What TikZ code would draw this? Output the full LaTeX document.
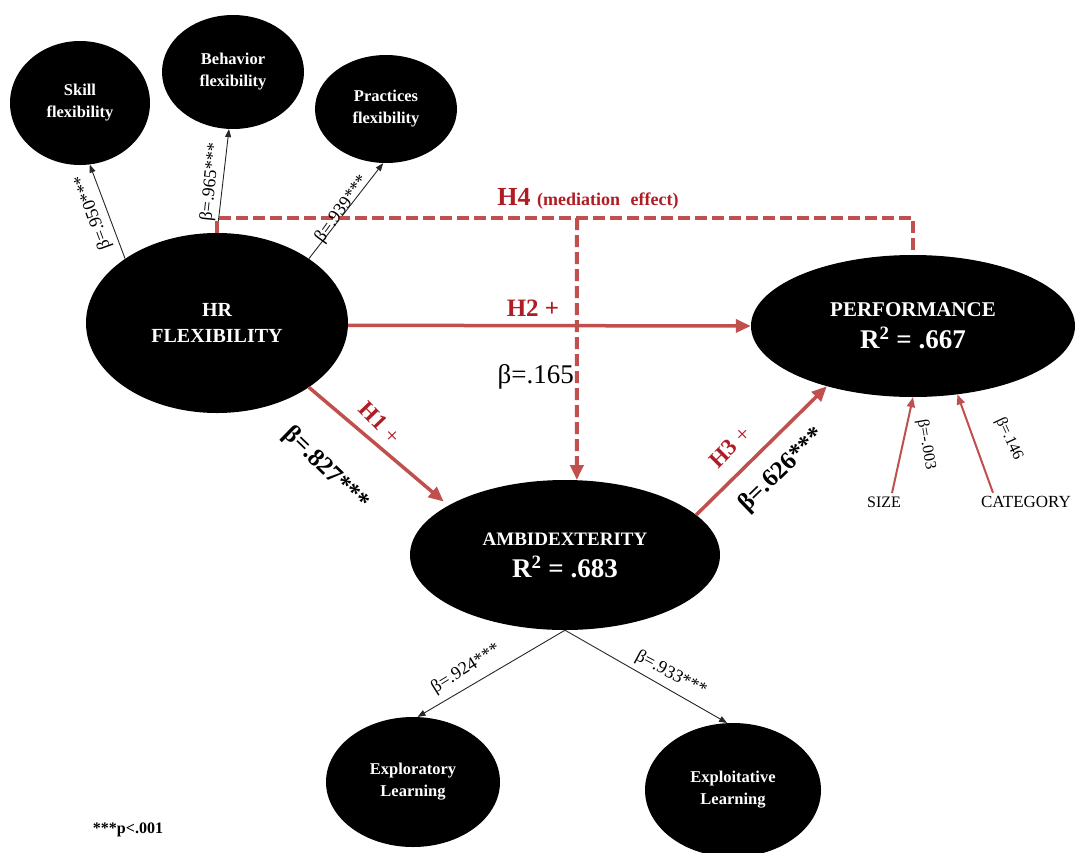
\documentclass[tikz,border=0pt]{standalone}
\usepackage{fontspec}
\setmainfont{Liberation Serif}
\usetikzlibrary{shapes.geometric,arrows.meta}
\definecolor{linered}{RGB}{192,80,77}
\definecolor{textred}{RGB}{175,28,35}
\newcommand\myfs[2]{\fontsize{#1}{#2}\selectfont}
\begin{document}
\begin{tikzpicture}[x=1pt,y=-1pt,
  ell/.style={ellipse, fill=black, inner sep=0pt, text=white, align=center},
  thinarr/.style={draw=black!85, line width=0.9pt, -{Triangle[length=8pt,width=6pt]}},
  redarr/.style={draw=linered, line width=3.5pt, -{Triangle[length=15pt,width=13pt]}},
  ctrlarr/.style={draw=linered, line width=2pt, -{Triangle[length=10pt,width=8pt]}},
  dashred/.style={draw=linered, line width=4pt, dash pattern=on 12pt off 5pt},
  lbl/.style={inner sep=1pt, font=\myfs{18}{20}},
  bigb/.style={inner sep=1pt, font=\bfseries\myfs{25}{28}},
  hlab/.style={inner sep=1pt, text=textred, font=\bfseries\myfs{23}{25}}
]
\useasboundingbox (0,0) rectangle (1082,852);

% ellipses
\node[ell, minimum width=140pt, minimum height=124pt, font=\bfseries\myfs{16.5}{22}] (skill) at (80,103) {Skill\\flexibility};
\node[ell, minimum width=142pt, minimum height=114pt, font=\bfseries\myfs{16.5}{22}] (behavior) at (233,72) {Behavior\\flexibility};
\node[ell, minimum width=142pt, minimum height=108pt, font=\bfseries\myfs{16.5}{22}] (practices) at (386,109) {Practices\\flexibility};
\node[ell, minimum width=262pt, minimum height=180pt, font=\bfseries\myfs{20}{26}] (hr) at (217,323) {HR\\FLEXIBILITY};
\node[ell, minimum width=324pt, minimum height=142pt, font=\bfseries\myfs{21}{32}] (perf) at (913,326) {PERFORMANCE\\{\myfs{27}{32}R\textsuperscript{2} = .667}};
\node[ell, minimum width=310pt, minimum height=150pt, font=\bfseries\myfs{19}{32}] (ambi) at (565,555) {AMBIDEXTERITY\\{\myfs{27}{32}R\textsuperscript{2} = .683}};
\node[ell, minimum width=174pt, minimum height=130pt, font=\bfseries\myfs{16.5}{22}] (expl) at (413,782) {Exploratory\\Learning};
\node[ell, minimum width=176pt, minimum height=134pt, font=\bfseries\myfs{16.5}{22}] (exploit) at (733,790) {Exploitative\\Learning};

% control variables
\node[font=\myfs{16}{18}] (size) at (884,502) {SIZE};
\node[font=\myfs{17}{18}] (category) at (1026,502) {CATEGORY};

% thin indicator arrows
\draw[thinarr] (hr.145) -- (skill.-81);
\draw[thinarr] (hr.north) -- (behavior.-94);
\draw[thinarr] (hr.35) -- (practices.-93);
\draw[thinarr] (ambi.south) -- (expl.86);
\draw[thinarr] (ambi.south) -- (exploit.95);

% H4 mediation
\coordinate (med) at (577,218);
\draw[dashred, line join=miter] (hr.north) |- (perf.north |- med) -- (perf.north);
\draw[dashred, -{Triangle[length=15pt,width=13pt]}] (med) -- (ambi.81);

% hypotheses
\draw[redarr] (hr.-1) -- (perf.west);
\draw[redarr, shorten >=6pt] (hr.-35) -- (ambi.157);
\draw[redarr] (ambi.17) -- (perf.-145);
\draw[ctrlarr] ([xshift=8pt]size.north) -- (perf.south);
\draw[ctrlarr] ([xshift=-33pt]category.north) -- (perf.-57);

% labels
\node[lbl, rotate=110] (l950) at (93,212) {β=.950***};
\node[lbl, rotate=84] (l965) at (211,182) {β=.965***};
\node[lbl, rotate=54] (l939) at (342,209) {β=.939***};
\node[inner sep=0pt, anchor=base, text=textred, font=\bfseries\myfs{26}{30}] (h4) at (588,205) {H4 {\myfs{18}{20}(mediation\hspace{6pt} effect)}};
\node[inner sep=1pt, text=textred, font=\bfseries\myfs{25}{28}] (h2) at (533,308) {H2 +};
\node[inner sep=1pt, anchor=east, font=\myfs{27}{30}] (b165) at (575,377) {β=.165};
\node[hlab, rotate=-46] (h1) at (380,423) {H1 \textmd{+}};
\node[bigb, rotate=-44] (b827) at (326,469) {β=.827***};
\node[hlab, rotate=45] (h3) at (730,447) {H3 \textmd{+}};
\node[bigb, rotate=44] (b626) at (782,470) {β=.626***};
\node[lbl, font=\myfs{16}{18}, rotate=-80] (b003) at (926,445) {β=-.003};
\node[lbl, font=\myfs{16}{18}, rotate=-65] (b146) at (1009,439) {β=.146};
\node[lbl, rotate=32] (b924) at (466,669) {β=.924***};
\node[lbl, rotate=-28] (b933) at (671,674) {β=.933***};
\node[font=\bfseries\myfs{16}{18}] (pval) at (128,830) {***p<.001};
\end{tikzpicture}
\end{document}
